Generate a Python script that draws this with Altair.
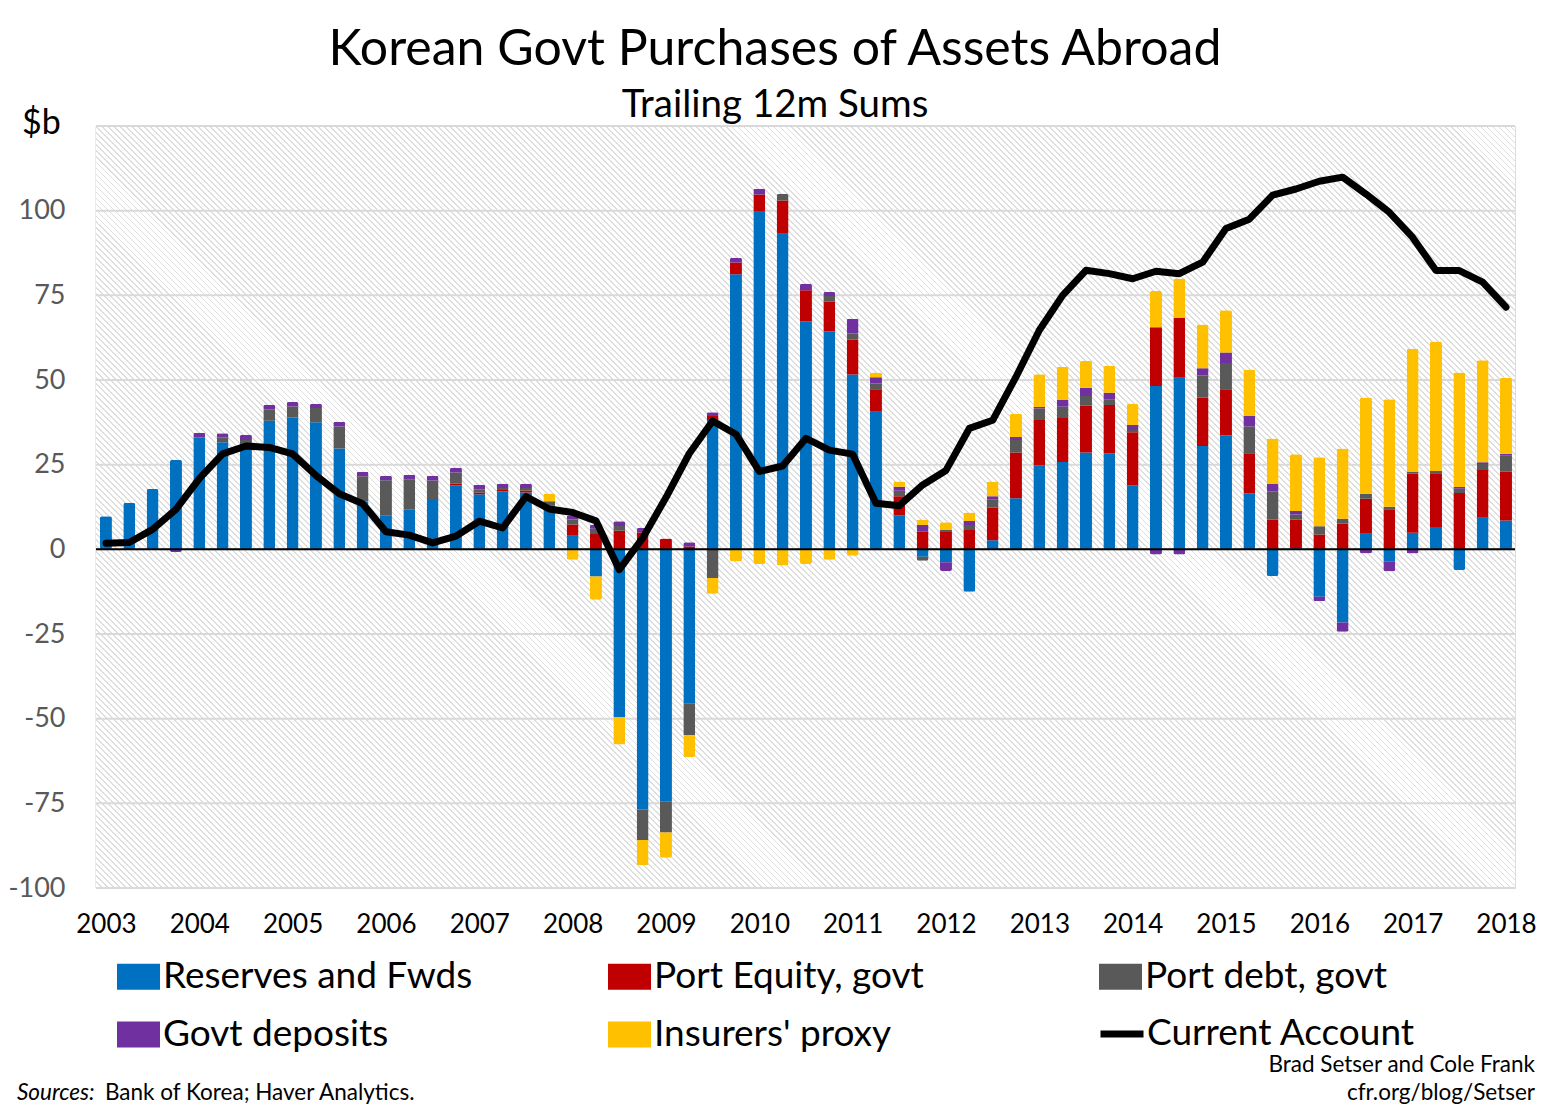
import altair as alt
import pandas as pd

# ---------------- data (trailing 12m sums, $bn), 2003Q1 .. 2018Q1 ----------------
first_year = 2003
n_quarters = 61
year_ticks = list(range(2003, 2019))
y_ticks = [-100, -75, -50, -25, 0, 25, 50, 75, 100]
grid_vals = [-100, -75, -50, -25, 0, 25, 50, 75, 100, 125]

series_names = ["Reserves and Fwds", "Port Equity, govt", "Port debt, govt",
                "Govt deposits", "Insurers' proxy"]
series_colors = ["#0070C0", "#C00000", "#595959", "#7030A0", "#FFC000"]

reserves = [9.8, 13.7, 17.8, 26.4, 33.0, 31.6, 31.0, 38.0, 38.9, 37.5,
            29.8, 14.1, 10.1, 11.8, 14.6, 18.9, 16.3, 17.1, 16.8, 13.0,
            4.0, -8.0, -49.5, -76.8, -74.4, -45.6, 38.2, 81.2, 99.7, 93.2,
            67.3, 64.3, 51.6, 40.6, 10.1, -2.2, -3.8, -12.5, 2.7, 15.1,
            24.8, 25.8, 28.6, 28.3, 18.9, 48.2, 50.7, 30.5, 33.6, 16.5,
            -7.9, 0.3, -14.0, -21.6, 4.6, -3.7, 4.9, 6.6, -6.1, 9.3, 8.5]
equity = [0, 0, 0, 0, 0, 0, 0, 0, 0, 0,
          0, 0, 0, 0, 0, 0.5, 0.5, 0.4, 0.6, 0,
          3.3, 4.5, 5.5, 5.0, 3.2, 0.8, 1.2, 3.5, 5.1, 9.8,
          9.2, 8.8, 10.3, 6.7, 5.6, 5.2, 5.1, 5.7, 9.6, 13.5,
          13.4, 13.0, 13.8, 14.3, 15.7, 17.4, 17.6, 14.3, 13.7, 11.9,
          8.8, 8.5, 4.4, 7.6, 10.3, 11.8, 17.4, 15.9, 16.6, 14.1, 14.4]
debt = [0, 0, 0, 0, 0, 1.4, 1.3, 3.3, 3.3, 4.2,
        6.5, 7.5, 10.3, 8.9, 5.7, 3.3, 0.9, 0.6, 0.7, 1.2,
        1.5, 1.6, 1.4, -9.0, -9.2, -9.3, -8.5, 0, 0, 1.9,
        0, 1.7, 1.8, 1.7, 1.6, -1.2, 0.6, 1.5, 2.5, 3.7,
        3.4, 3.3, 2.9, 1.7, 0.6, 0, 0, 6.5, 7.7, 7.9,
        8.3, 1.5, 2.4, 1.4, 1.5, 0.8, 0.5, 0.6, 1.3, 1.8, 4.7]
deposits = [0, 0, 0, -0.8, 1.4, 1.3, 1.5, 1.4, 1.3, 1.3,
            1.4, 1.3, 1.3, 1.3, 1.4, 1.4, 1.4, 1.3, 1.3, 0,
            1.2, 1.2, 1.4, 1.3, 0, 1.3, 1.1, 1.4, 1.7, 0,
            1.9, 1.2, 4.4, 1.8, 1.2, 2.0, -2.6, 1.2, 0.9, 0.9,
            0.4, 2.0, 2.4, 1.9, 1.5, -1.5, -1.5, 2.2, 3.1, 3.1,
            2.2, 1.0, -1.3, -2.7, -1.2, -2.8, -1.2, 0, 0.5, 0.5, 0.6]
insurers = [0, 0, 0, 0, 0, 0, 0, 0, 0, 0,
            0, 0, 0, 0, 0, 0, 0, 0, 0, 2.3,
            -3.1, -6.9, -8.1, -7.5, -7.5, -6.4, -4.6, -3.6, -4.3, -4.8,
            -4.3, -3.1, -1.9, 1.4, 1.5, 1.6, 2.3, 2.5, 4.3, 6.8,
            9.7, 9.8, 7.9, 7.9, 6.2, 10.7, 11.7, 12.9, 12.5, 13.7,
            13.4, 16.8, 20.4, 20.8, 28.4, 31.7, 36.4, 38.3, 33.8, 30.1, 22.5]
current_account = [1.8, 2.0, 5.9, 11.8, 20.9, 28.2, 30.5, 30.1, 28.2, 21.8,
                   16.4, 13.5, 5.2, 4.2, 1.9, 3.9, 8.3, 6.3, 15.6, 11.9,
                   10.9, 8.4, -6.0, 3.3, 15.3, 28.3, 37.9, 34.0, 23.0, 24.6,
                   32.8, 29.3, 28.1, 13.6, 12.9, 19.0, 23.3, 35.7, 38.1, 50.9,
                   64.7, 75.0, 82.4, 81.4, 79.9, 82.1, 81.4, 84.8, 94.7, 97.5,
                   104.6, 106.4, 108.7, 109.9, 104.9, 99.5, 92.1, 82.3, 82.3, 78.9, 71.5]

# ---------------- tables ----------------
quarter_pos = [first_year + i / 4 for i in range(n_quarters)]
all_series = [reserves, equity, debt, deposits, insurers]
rows = []
for k, (name, vals) in enumerate(zip(series_names, all_series)):
    for t, v in zip(quarter_pos, vals):
        if v != 0:
            rows.append({"t": t, "series": name, "v": v, "o": k})
bars_df = pd.DataFrame(rows)
line_df = pd.DataFrame({"t": quarter_pos, "ca": current_account, "lab": "Current Account"})
grid_df = pd.DataFrame({"g": grid_vals})

W, H = 1419, 762
FONT = "Lato"

x_scale = alt.Scale(domain=[2002.947, 2018.043], nice=False, zero=False)
y_scale = alt.Scale(domain=[-100, 125], nice=False, zero=False)

y_axis = alt.Axis(values=y_ticks, grid=False, ticks=False, domainColor="#d9d9d9",
                  domainWidth=2, labelFontSize=27, labelColor="#595959",
                  labelPadding=31, labelFont=FONT, title=None, format="d",
                  labelExpr="replace(datum.label, '\u2212', '-')")

# ---------------- hatched plot background (striped linear gradient) ----------------
r = H / W
s = (1 + r) / (1 + r * r)
n_stripes = 364
frac = 0.32
stops = []
for k in range(n_stripes):
    a = k / n_stripes
    b = (k + frac) / n_stripes
    c = (k + 1) / n_stripes
    stops += [{"offset": round(a, 6), "color": "#dedede"},
              {"offset": round(b, 6), "color": "#dedede"},
              {"offset": round(b, 6), "color": "#ffffff"},
              {"offset": round(c, 6), "color": "#ffffff"}]
hatch_fill = {"gradient": "linear", "x1": 0, "y1": 1, "x2": round(s, 5),
              "y2": round(1 - s * r, 5), "stops": stops}

one = alt.Data(values=[{}])

hatch = alt.Chart(one).mark_rect(fill=hatch_fill, strokeWidth=0).encode(
    x=alt.value(0), x2=alt.value(W), y=alt.value(0), y2=alt.value(H))

grid = alt.Chart(grid_df).mark_rule(color="#d9d9d9", strokeWidth=2).encode(
    y=alt.Y("g:Q", scale=y_scale, axis=y_axis))

bars = alt.Chart(bars_df).mark_bar(size=12, cornerRadius=2).encode(
    x=alt.X("t:Q", scale=x_scale,
            axis=alt.Axis(values=year_ticks, format="d", labelFlush=False, domain=False,
                          ticks=False, grid=False, labelFontSize=26, labelColor="black",
                          labelPadding=23, labelFont=FONT, title=None)),
    y=alt.Y("v:Q", stack="zero", scale=y_scale, axis=y_axis),
    color=alt.Color("series:N", scale=alt.Scale(domain=series_names, range=series_colors),
                    legend=alt.Legend(title=None, orient="none", legendX=21, legendY=829,
                                      columns=3, direction="horizontal",
                                      symbolType="M-1,-0.6H1V0.6H-1Z",
                                      symbolSize=1849, symbolStrokeWidth=0, symbolOpacity=1,
                                      labelFontSize=37, labelColor="black", labelFont=FONT,
                                      labelLimit=600, labelOffset=3, columnPadding=135,
                                      rowPadding=18, gridAlign="all", padding=0)),
    order=alt.Order("o:Q", sort="ascending"),
)

zero_line = alt.Chart(one).mark_rule(color="black", strokeWidth=2).encode(
    y=alt.datum(0, type="quantitative"))

ca_line = alt.Chart(line_df).mark_line(strokeWidth=7, strokeJoin="round", strokeCap="round").encode(
    x=alt.X("t:Q", scale=x_scale),
    y=alt.Y("ca:Q", scale=y_scale),
    stroke=alt.Stroke("lab:N", scale=alt.Scale(domain=["Current Account"], range=["black"]),
                      legend=alt.Legend(title=None, orient="none", legendX=1001, legendY=883,
                                        symbolType="stroke", symbolSize=1849,
                                        symbolStrokeWidth=7, labelFontSize=37,
                                        labelColor="black", labelFont=FONT, labelLimit=600,
                                        labelOffset=0, padding=0)),
)


def txt(s_, x, y, size, align="left", style="normal", color="black"):
    return alt.Chart(one).mark_text(text=s_, fontSize=size, align=align, baseline="alphabetic",
                                    fontStyle=style, color=color, font=FONT).encode(
        x=alt.value(x), y=alt.value(y))


texts = [
    txt("Korean Govt Purchases of Assets Abroad", 679, -61, 50, align="center"),
    txt("Trailing 12m Sums", 679, -9, 38.5, align="center"),
    txt("$b", -74, 8, 34),
    txt("Sources:", -79, 974, 22.5, style="italic"),
    txt("Bank of Korea; Haver Analytics.", 9, 974, 22.5),
    txt("Brad Setser and Cole Frank", 1439, 946, 22.5, align="right"),
    txt("cfr.org/blog/Setser", 1439, 974, 22.5, align="right"),
]

chart = alt.layer(hatch, grid, bars, zero_line, ca_line, *texts).properties(
    width=W, height=H,
    autosize=alt.AutoSizeParams(type="none"),
    padding={"left": 88, "top": 118, "right": 22, "bottom": 218},
    background="white",
).configure_view(stroke=None).configure(font=FONT)

chart.save("out.html", embed_options={"renderer": "svg", "actions": False})
